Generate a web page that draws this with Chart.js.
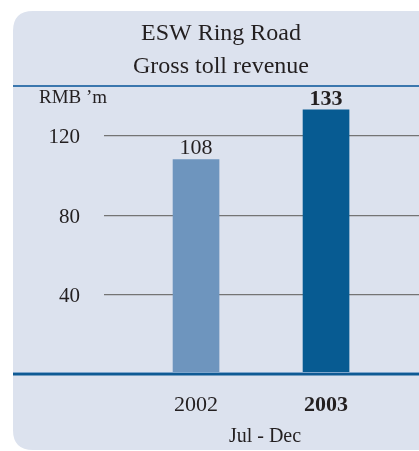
<!DOCTYPE html>
<html>
<head>
<meta charset="utf-8">
<script src="https://cdn.jsdelivr.net/npm/chart.js@4/dist/chart.umd.min.js"></script>
<style>
  html, body { margin: 0; padding: 0; background: #ffffff; overflow: hidden; }
  #wrap { width: 419px; height: 451px; overflow: hidden; }
  canvas { display: block; }
</style>
</head>
<body>
<div id="wrap"><canvas id="c" width="426" height="451"></canvas></div>
<script>
const categories = [2002, 2003];
const revenue = [108, 133];
const yTickValues = [40, 80, 120];
const titleLines = ['ESW Ring Road', 'Gross toll revenue'];
const unitLabel = "RMB \u2019m";
const periodLabel = 'Jul - Dec';
const highlightYear = 2003;

const SERIF = '"Liberation Serif", "DejaVu Serif", serif';
const TEXT = '#231f20';
const PANEL = '#dce2ee';

const panelPlugin = {
  id: 'panel',
  beforeDraw(chart) {
    const ctx = chart.ctx;
    const x0 = 13, y0 = 11, x1 = 446, y1 = 450, r = 20;
    ctx.save();
    ctx.fillStyle = PANEL;
    ctx.beginPath();
    ctx.moveTo(x0 + r, y0);
    ctx.lineTo(x1 - r, y0);
    ctx.quadraticCurveTo(x1, y0, x1, y0 + r);
    ctx.lineTo(x1, y1 - r);
    ctx.quadraticCurveTo(x1, y1, x1 - r, y1);
    ctx.lineTo(x0 + r, y1);
    ctx.quadraticCurveTo(x0, y1, x0, y1 - r);
    ctx.lineTo(x0, y0 + r);
    ctx.quadraticCurveTo(x0, y0, x0 + r, y0);
    ctx.closePath();
    ctx.fill();
    // rule under title
    ctx.fillStyle = '#3b77ae';
    ctx.fillRect(x0, chart.chartArea.top - 1, chart.width, 2);
    // unit label
    ctx.fillStyle = TEXT;
    ctx.font = '19px ' + SERIF;
    ctx.textAlign = 'left';
    ctx.textBaseline = 'alphabetic';
    ctx.fillText(unitLabel, 39, 103);
    ctx.restore();
  },
  afterDatasetsDraw(chart) {
    const ctx = chart.ctx;
    const yScale = chart.scales.y;
    const zeroY = yScale.getPixelForValue(0);
    ctx.save();
    // baseline
    ctx.fillStyle = '#7fa6cc';
    ctx.fillRect(13, zeroY - 2, chart.width, 1);
    ctx.fillStyle = '#0f5a94';
    ctx.fillRect(13, zeroY - 1, chart.width, 2.5);
    // value labels
    const meta = chart.getDatasetMeta(0);
    ctx.fillStyle = TEXT;
    ctx.textAlign = 'center';
    ctx.textBaseline = 'alphabetic';
    meta.data.forEach((bar, i) => {
      const bold = categories[i] === highlightYear;
      ctx.font = (bold ? 'bold ' : '') + '22px ' + SERIF;
      ctx.fillText(String(revenue[i]), bar.x, bar.y - 5);
    });
    ctx.restore();
  }
};

const data = {
  datasets: [{
    data: categories.map((c, i) => ({ x: c, y: revenue[i] })),
    backgroundColor: categories.map(c => c === highlightYear ? '#075b92' : '#6e95be'),
    borderWidth: 0,
    barThickness: 46
  }]
};

new Chart(document.getElementById('c'), {
  type: 'bar',
  data: data,
  plugins: [panelPlugin],
  options: {
    responsive: false,
    animation: false,
    devicePixelRatio: 1,
    layout: { padding: { left: 16, right: 0, top: 0, bottom: 0 } },
    plugins: {
      legend: { display: false },
      tooltip: { enabled: false },
      title: {
        display: true,
        text: titleLines,
        color: TEXT,
        font: { family: SERIF, size: 24, weight: 'normal', lineHeight: 33.5 / 24 },
        padding: { top: 16.5, bottom: 2.5 }
      }
    },
    scales: {
      x: {
        type: 'linear',
        offset: false,
        min: 2001.292,
        max: 2003.769,
        afterBuildTicks(scale) { scale.ticks = categories.map(v => ({ value: v })); },
        afterFit(scale) { scale.height = 77; },
        grid: { display: false, drawTicks: false },
        border: { display: false },
        ticks: {
          padding: 18,
          color: TEXT,
          maxRotation: 0,
          callback: v => String(v),
          font: ctx => ({ family: SERIF, size: 22, weight: (ctx.tick && ctx.tick.value === highlightYear) ? 'bold' : 'normal' })
        },
        title: {
          display: true,
          text: periodLabel,
          color: TEXT,
          font: { family: SERIF, size: 20, lineHeight: 1.2 },
          padding: { top: 0, bottom: 2.5 }
        }
      },
      y: {
        min: 0,
        max: 145,
        afterBuildTicks(scale) { scale.ticks = yTickValues.map(v => ({ value: v })); },
        afterFit(scale) { scale.width = 88; },
        grid: { color: '#747474', lineWidth: 1.2, drawTicks: false },
        border: { display: false },
        ticks: {
          padding: 24,
          labelOffset: 2,
          color: TEXT,
          font: { family: SERIF, size: 21 }
        }
      }
    }
  }
});
</script>
</body>
</html>
